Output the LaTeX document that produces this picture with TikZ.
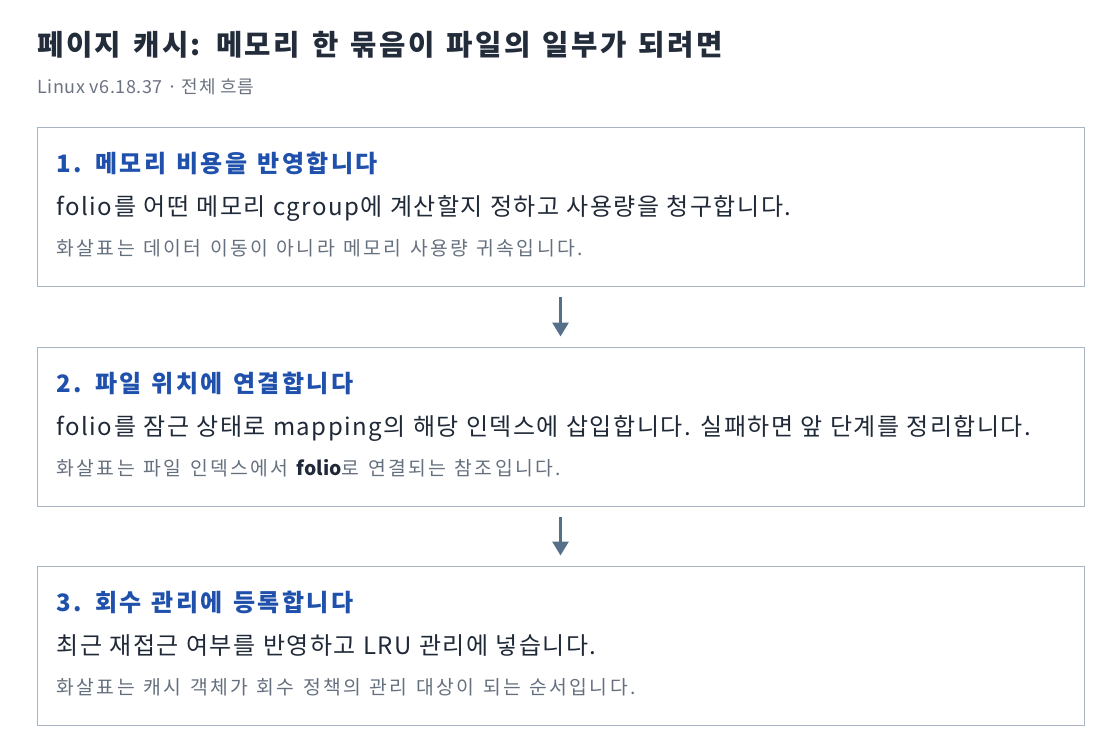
\documentclass[tikz,border=0pt]{standalone}
\usepackage{fontspec}
\setmainfont{Noto Sans CJK KR}
\newfontfamily\titlefont{Noto Sans CJK KR}[LetterSpace=8.6, WordSpace=1.33]
\newfontfamily\subfont{Noto Sans CJK KR}[LetterSpace=3]
\newfontfamily\headfont{Noto Sans CJK KR}[LetterSpace=10, WordSpace=1.3]
\newfontfamily\bodyfont{Noto Sans CJK KR}[LetterSpace=6, WordSpace=1.1]
\newfontfamily\notefont{Noto Sans CJK KR}[LetterSpace=12, WordSpace=1.3]
\usetikzlibrary{arrows.meta}

\definecolor{titlecol}{HTML}{232C3A}
\definecolor{subcol}{HTML}{6B7280}
\definecolor{boxline}{HTML}{AAB5C3}
\definecolor{headblue}{HTML}{1E50AC}
\definecolor{bodycol}{HTML}{1F2937}
\definecolor{notecol}{HTML}{65707E}
\definecolor{arrowcol}{HTML}{56708A}

\begin{document}
\begin{tikzpicture}[x=0.75pt, y=-0.75pt,
	stepbox/.style={draw=boxline, line width=0.75pt, minimum width=785.25pt, minimum height=119.25pt, inner sep=0pt},
	head/.style={anchor=base west, inner sep=0pt, text=headblue, font=\headfont\bfseries\fontsize{18}{22}\selectfont},
	body/.style={anchor=base west, inner sep=0pt, text=bodycol, font=\bodyfont\fontsize{18}{22}\selectfont},
	note/.style={anchor=base west, inner sep=0pt, text=notecol, font=\notefont\fontsize{14.5}{17}\selectfont},
	flow/.style={-{Triangle[width=12pt, length=10.5pt]}, line width=2.25pt, draw=arrowcol, shorten <=7.5pt, shorten >=7.5pt}]

	\useasboundingbox (0,0) rectangle (1120,754);

	\node[anchor=base west, inner sep=0pt, text=titlecol, font=\titlefont\bfseries\fontsize{21.5}{26}\selectfont] (title) at (37,55) {페이지 캐시: 메모리 한 묶음이 파일의 일부가 되려면};
	\node[anchor=base west, inner sep=0pt, text=subcol, font=\subfont\fontsize{13.5}{16}\selectfont] (sub) at (37,93) {Linux v6.18.37 · 전체 흐름};

	\node[stepbox] (s1) at (560.5,206.5) {};
	\node[stepbox] (s2) at (560.5,426.5) {};
	\node[stepbox] (s3) at (560.5,645.5) {};

	\node[head] (h1) at ([shift={(20,46)}]s1.north west) {1. 메모리 비용을 반영합니다};
	\node[body] (b1) at ([shift={(20,89)}]s1.north west) {folio를 어떤 메모리 cgroup에 계산할지 정하고 사용량을 청구합니다.};
	\node[note] (n1) at ([shift={(20,129)}]s1.north west) {화살표는 데이터 이동이 아니라 메모리 사용량 귀속입니다.};

	\node[head] (h2) at ([shift={(20,46)}]s2.north west) {2. 파일 위치에 연결합니다};
	\node[body] (b2) at ([shift={(20,89)}]s2.north west) {folio를 잠근 상태로 mapping의 해당 인덱스에 삽입합니다. 실패하면 앞 단계를 정리합니다.};
	\node[note] (n2) at ([shift={(20,129)}]s2.north west) {화살표는 파일 인덱스에서 {\rmfamily\bfseries\color{bodycol}folio}로 연결되는 참조입니다.};

	\node[head] (h3) at ([shift={(20,46)}]s3.north west) {3. 회수 관리에 등록합니다};
	\node[body] (b3) at ([shift={(20,89)}]s3.north west) {최근 재접근 여부를 반영하고 LRU 관리에 넣습니다.};
	\node[note] (n3) at ([shift={(20,129)}]s3.north west) {화살표는 캐시 객체가 회수 정책의 관리 대상이 되는 순서입니다.};

	\draw[flow] (s1.south) -- (s2.north);
	\draw[flow] (s2.south) -- (s3.north);

\end{tikzpicture}
\end{document}
